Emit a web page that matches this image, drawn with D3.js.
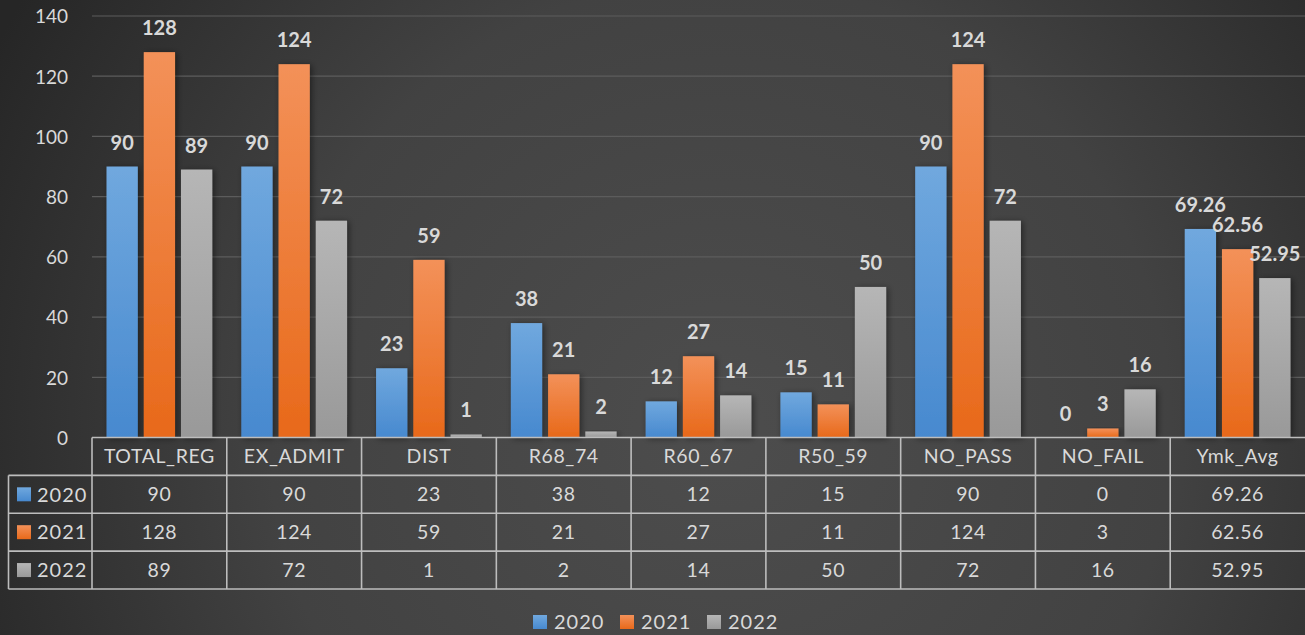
<!DOCTYPE html>
<html>
<head>
<meta charset="utf-8">
<script src="https://cdn.jsdelivr.net/npm/d3@7"></script>
<style>
  html, body { margin: 0; padding: 0; background: #262626; }
  svg { display: block; font-family: Lato, "Open Sans", sans-serif; }
</style>
</head>
<body>
<div id="chart"></div>
<script>
// data
const categories = ["TOTAL_REG", "EX_ADMIT", "DIST", "R68_74", "R60_67", "R50_59", "NO_PASS", "NO_FAIL", "Ymk_Avg"]
const years = ["2020", "2021", "2022"]
const values2020 = [90, 90, 23, 38, 12, 15, 90, 0, 69.26]
const values2021 = [128, 124, 59, 21, 27, 11, 124, 3, 62.56]
const values2022 = [89, 72, 1, 2, 14, 50, 72, 16, 52.95]
const labels2020 = ["90", "90", "23", "38", "12", "15", "90", "0", "69.26"]
const labels2021 = ["128", "124", "59", "21", "27", "11", "124", "3", "62.56"]
const labels2022 = ["89", "72", "1", "2", "14", "50", "72", "16", "52.95"]
const yTicks = [0, 20, 40, 60, 80, 100, 120, 140]

const seriesValues = [values2020, values2021, values2022]
const seriesLabels = [labels2020, labels2021, labels2022]
const colors = [
    { top: "#70a8de", bottom: "#4789cf" },
    { top: "#f39159", bottom: "#e8691a" },
    { top: "#b6b6b6", bottom: "#999999" }
]

const width = 1305, height = 635
const margin = { top: 16, left: 92, right: 0 }
const plotBottom = 437.5
const textColor = "#d9d9d9"
const lineColor = "#bdbdbd"

const svg = d3.select("#chart").append("svg")
    .attr("width", width)
    .attr("height", height)

// background + gradients
const defs = svg.append("defs")
const bg = defs.append("radialGradient")
    .attr("id", "bg")
    .attr("gradientUnits", "userSpaceOnUse")
    .attr("cx", 720).attr("cy", 430).attr("r", 820)
bg.append("stop").attr("offset", "0%").attr("stop-color", "#4d4d4d")
bg.append("stop").attr("offset", "55%").attr("stop-color", "#424242")
bg.append("stop").attr("offset", "100%").attr("stop-color", "#262626")

colors.forEach((c, i) => {
    const g = defs.append("linearGradient")
        .attr("id", "bar" + i)
        .attr("x1", 0).attr("y1", 0).attr("x2", 0).attr("y2", 1)
    g.append("stop").attr("offset", "0%").attr("stop-color", c.top)
    g.append("stop").attr("offset", "100%").attr("stop-color", c.bottom)
})
defs.append("filter")
    .attr("id", "shadow")
    .attr("x", "-30%").attr("y", "-10%").attr("width", "160%").attr("height", "130%")
    .append("feDropShadow")
    .attr("dx", 2).attr("dy", 1).attr("stdDeviation", 3)
    .attr("flood-color", "#000").attr("flood-opacity", 0.45)

svg.append("rect")
    .attr("width", width).attr("height", height)
    .attr("fill", "url(#bg)")

// scales
const x0 = d3.scaleBand()
    .domain(categories)
    .range([margin.left, width - margin.right])
    .padding(0)
const x1 = d3.scaleBand()
    .domain(years)
    .range([0, x0.bandwidth()])
    .paddingInner(0.16)
    .paddingOuter(0.39)
const y = d3.scaleLinear()
    .domain([0, 140])
    .range([plotBottom, margin.top])

// gridlines
svg.append("g")
    .selectAll("line")
    .data(yTicks.filter(t => t > 0))
    .join("line")
    .attr("x1", margin.left).attr("x2", width - margin.right)
    .attr("y1", d => y(d)).attr("y2", d => y(d))
    .attr("stroke", "#5c5c5c")
    .attr("stroke-width", 1.2)

// y axis labels
const yAxis = svg.append("g")
    .attr("transform", "translate(" + (margin.left - 24) + ",0)")
    .call(d3.axisLeft(y).tickValues(yTicks).tickSize(0).tickPadding(0))
yAxis.select(".domain").remove()
yAxis.selectAll("text")
    .attr("fill", textColor)
    .attr("font-size", 19)
    .attr("font-family", "Lato, sans-serif")
    .attr("dy", "0.36em")

// bars
const groups = svg.append("g")
    .selectAll("g")
    .data(categories)
    .join("g")
    .attr("transform", d => "translate(" + x0(d) + ",0)")

groups.selectAll("rect")
    .data((d, i) => years.map((yr, s) => ({ yr, s, v: seriesValues[s][i] })))
    .join("rect")
    .attr("x", d => x1(d.yr))
    .attr("width", x1.bandwidth())
    .attr("y", d => y(d.v))
    .attr("height", d => y(0) - y(d.v))
    .attr("fill", d => "url(#bar" + d.s + ")")
    .attr("filter", d => d.v > 0 ? "url(#shadow)" : null)

groups.selectAll("text")
    .data((d, i) => years.map((yr, s) => ({ yr, s, v: seriesValues[s][i], label: seriesLabels[s][i] })))
    .join("text")
    .attr("x", d => x1(d.yr) + x1.bandwidth() / 2)
    .attr("y", d => y(d.v) - 17)
    .attr("text-anchor", "middle")
    .attr("fill", textColor)
    .attr("font-size", 20)
    .attr("font-weight", "bold")
    .text(d => d.label)

// data table
const tableLeft = 8.5
const rowY = d3.scaleBand()
    .domain(["head"].concat(years))
    .range([plotBottom, 589])
const table = svg.append("g")
    .attr("fill", "none")
    .attr("stroke", lineColor)
    .attr("stroke-width", 1.6)

// horizontal lines
table.append("line")
    .attr("x1", margin.left).attr("x2", width)
    .attr("y1", rowY("head")).attr("y2", rowY("head"))
years.forEach(yr => {
    table.append("line")
        .attr("x1", tableLeft).attr("x2", width)
        .attr("y1", rowY(yr)).attr("y2", rowY(yr))
})
table.append("line")
    .attr("x1", tableLeft).attr("x2", width)
    .attr("y1", rowY.range()[1]).attr("y2", rowY.range()[1])
// vertical lines
table.append("line")
    .attr("x1", tableLeft).attr("x2", tableLeft)
    .attr("y1", rowY("2020")).attr("y2", rowY.range()[1])
categories.forEach(c => {
    table.append("line")
        .attr("x1", x0(c)).attr("x2", x0(c))
        .attr("y1", rowY("head")).attr("y2", rowY.range()[1])
})

const cellText = svg.append("g")
    .attr("fill", textColor)
    .attr("font-size", 19.5)
    .attr("letter-spacing", 0.6)
    .attr("text-anchor", "middle")

cellText.selectAll("text.head")
    .data(categories)
    .join("text")
    .attr("class", "head")
    .attr("x", d => x0(d) + x0.bandwidth() / 2)
    .attr("y", rowY("head") + rowY.bandwidth() / 2)
    .attr("dy", "0.36em")
    .text(d => d)

years.forEach((yr, s) => {
    cellText.selectAll("text.r" + yr)
        .data(categories)
        .join("text")
        .attr("class", "r" + yr)
        .attr("x", d => x0(d) + x0.bandwidth() / 2)
        .attr("y", rowY(yr) + rowY.bandwidth() / 2)
        .attr("dy", "0.36em")
        .text((d, i) => seriesLabels[s][i])

    svg.append("rect")
        .attr("x", 17).attr("y", rowY(yr) + rowY.bandwidth() / 2 - 7)
        .attr("width", 14).attr("height", 14)
        .attr("fill", "url(#bar" + s + ")")
    svg.append("text")
        .attr("x", 37).attr("y", rowY(yr) + rowY.bandwidth() / 2)
        .attr("dy", "0.36em")
        .attr("fill", textColor)
        .attr("font-size", 20)
        .attr("letter-spacing", 1)
        .text(yr)
})

// legend
const legend = svg.append("g")
    .attr("transform", "translate(533,622)")
const legX = d3.scalePoint().domain(years).range([0, 174])
years.forEach((yr, s) => {
    legend.append("rect")
        .attr("x", legX(yr)).attr("y", -7)
        .attr("width", 14).attr("height", 14)
        .attr("fill", "url(#bar" + s + ")")
    legend.append("text")
        .attr("x", legX(yr) + 21).attr("y", 0)
        .attr("dy", "0.36em")
        .attr("fill", textColor)
        .attr("font-size", 20)
        .attr("letter-spacing", 1)
        .text(yr)
})
</script>
</body>
</html>
